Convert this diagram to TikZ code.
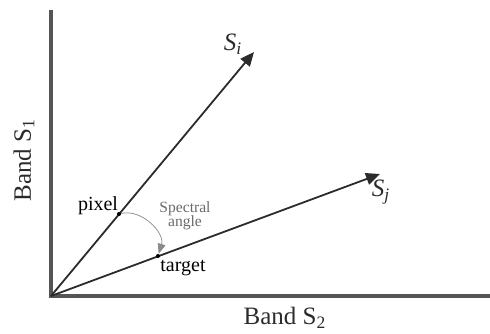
\documentclass[tikz,border=0pt]{standalone}
\usepackage{fontspec}
\setmainfont{Liberation Serif}
\usepackage{tikz}
\usepackage{xcolor}
\usetikzlibrary{arrows.meta}
\definecolor{ink}{HTML}{2B2B2B}
\definecolor{axisgray}{HTML}{555555}
\definecolor{arcgray}{HTML}{8A8A8A}
\definecolor{muted}{HTML}{6A6A6A}
\tikzset{
  axisline/.style={draw=axisgray, line width=1.7pt},
  vector/.style={-{Triangle[length=7pt,width=6pt]}, line width=0.9pt, draw=ink},
  anglearc/.style={-{Triangle[length=5pt,width=4pt]}, line width=0.35pt, draw=arcgray},
  dot/.style={circle, fill=black, inner sep=0pt, minimum size=2pt},
  bandlbl/.style={font=\fontsize{12.5}{14}\selectfont, text=ink},
  ptlbl/.style={font=\fontsize{10}{12}\selectfont, text=black},
  veclbl/.style={font=\fontsize{12.5}{14}\selectfont\itshape, text=ink},
  notelbl/.style={font=\fontsize{7.8}{9}\selectfont, text=muted, align=center}
}
\begin{document}
\begin{tikzpicture}[x=0.5pt,y=0.5pt]
  \useasboundingbox (0,0) rectangle (490,333);
  % axes
  \coordinate (origin) at (51,37);
  \coordinate (ytop) at (51,323);
  \coordinate (xend) at (490,37);
  \draw[axisline] (ytop) -- (origin) -- (xend);
  % vectors
  \coordinate (si) at (254,281);
  \coordinate (sj) at (380,159);
  \draw[vector] (origin) -- (si);
  \draw[vector] (origin) -- (sj);
  \node[dot] (pixel) at (119,119) {};
  \node[dot] (target) at (158,77) {};
  % angle
  \draw[anglearc] (pixel) to[bend left=60] (target);
  % labels
  \node[ptlbl] (pixellbl) at (98,127) {pixel};
  \node[ptlbl] (targetlbl) at (183,65) {target};
  \node[notelbl] (angle) at (185,117) {Spectral\\[-2pt]angle};
  \node[veclbl] (silbl) at (233,289) {S\textsubscript{i}};
  \node[veclbl] (sjlbl) at (381,141) {S\textsubscript{j}};
  \node[bandlbl,rotate=90] (band1) at (24,173) {Band S\textsubscript{1}};
  \node[bandlbl] (band2) at (285,15) {Band S\textsubscript{2}};
\end{tikzpicture}
\end{document}
